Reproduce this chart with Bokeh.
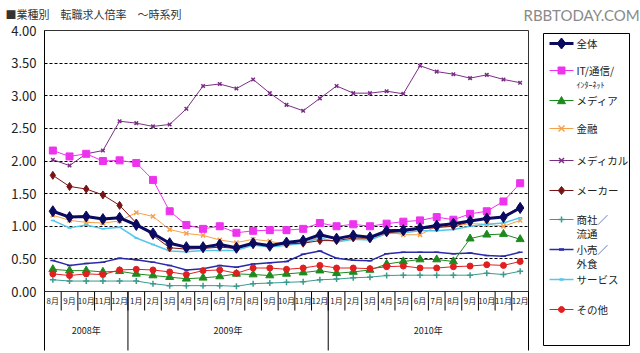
import math
from bokeh.plotting import figure
from bokeh.models import Range1d, FixedTicker, PrintfTickFormatter
from bokeh.core.properties import value
from bokeh.embed import file_html
from bokeh.resources import INLINE

# ---------------- data ----------------
months = ["8月", "9月", "10月", "11月", "12月",
          "1月", "2月", "3月", "4月", "5月", "6月", "7月", "8月", "9月", "10月", "11月", "12月",
          "1月", "2月", "3月", "4月", "5月", "6月", "7月", "8月", "9月", "10月", "11月", "12月"]
years = ["2008年", "2009年", "2010年"]
year_counts = [5, 12, 12]

zentai = [1.23, 1.14, 1.15, 1.11, 1.13, 1.02, 0.89, 0.74, 0.68, 0.68, 0.72, 0.67, 0.74, 0.70, 0.75, 0.78,
          0.87, 0.81, 0.86, 0.83, 0.93, 0.94, 0.97, 1.01, 1.04, 1.08, 1.12, 1.14, 1.28]
it_net = [2.16, 2.07, 2.11, 2.00, 2.01, 1.97, 1.71, 1.23, 1.02, 0.96, 1.00, 0.90, 0.93, 0.94, 0.94, 0.96,
          1.05, 1.00, 1.03, 1.00, 1.04, 1.07, 1.09, 1.14, 1.10, 1.19, 1.23, 1.38, 1.66]
media = [0.34, 0.32, 0.32, 0.30, 0.31, 0.27, 0.245, 0.22, 0.195, 0.21, 0.23, 0.27, 0.26, 0.245, 0.27, 0.29,
         0.32, 0.28, 0.30, 0.33, 0.42, 0.46, 0.49, 0.49, 0.46, 0.81, 0.87, 0.88, 0.80]
kinyu = [1.17, 1.09, 1.06, 1.05, 1.08, 1.21, 1.15, 0.95, 0.89, 0.86, 0.79, 0.75, 0.80, 0.77, 0.72, 0.74,
         0.84, 0.82, 0.83, 0.80, 0.92, 0.87, 0.87, 1.00, 1.00, 1.04, 1.03, 1.00, 1.09]
medical = [2.02, 1.93, 2.11, 2.16, 2.61, 2.58, 2.53, 2.56, 2.80, 3.15, 3.18, 3.11, 3.25, 3.04, 2.86, 2.77,
           2.96, 3.15, 3.04, 3.04, 3.07, 3.03, 3.46, 3.37, 3.33, 3.27, 3.32, 3.25, 3.20]
maker = [1.78, 1.61, 1.57, 1.48, 1.32, 1.05, 0.86, 0.67, 0.65, 0.66, 0.68, 0.66, 0.73, 0.72, 0.73, 0.74,
         0.78, 0.78, 0.82, 0.82, 0.90, 0.92, 0.96, 0.98, 1.00, 1.07, 1.12, 1.15, 1.30]
shosha = [0.18, 0.16, 0.16, 0.16, 0.16, 0.16, 0.12, 0.09, 0.09, 0.09, 0.09, 0.08, 0.12, 0.13, 0.14, 0.15,
          0.18, 0.19, 0.21, 0.22, 0.245, 0.25, 0.25, 0.25, 0.25, 0.25, 0.28, 0.26, 0.31]
kouri = [0.475, 0.40, 0.43, 0.45, 0.51, 0.485, 0.45, 0.40, 0.33, 0.35, 0.40, 0.37, 0.42, 0.44, 0.46, 0.57,
         0.62, 0.51, 0.48, 0.47, 0.58, 0.60, 0.60, 0.60, 0.58, 0.59, 0.55, 0.54, 0.60]
service = [1.09, 0.975, 1.02, 0.96, 0.985, 0.82, 0.72, 0.62, 0.61, 0.63, 0.63, 0.63, 0.71, 0.68, 0.71, 0.74,
           0.82, 0.76, 0.80, 0.79, 0.89, 0.90, 0.93, 0.93, 0.95, 1.00, 1.03, 1.05, 1.13]
sonota = [0.27, 0.245, 0.27, 0.26, 0.33, 0.34, 0.33, 0.30, 0.26, 0.32, 0.33, 0.28, 0.36, 0.36, 0.34, 0.36,
          0.40, 0.36, 0.36, 0.35, 0.38, 0.39, 0.36, 0.36, 0.38, 0.39, 0.41, 0.40, 0.46]

y_ticks = [0.0, 0.5, 1.0, 1.5, 2.0, 2.5, 3.0, 3.5, 4.0]

# (name, values, color, line width, marker, marker size, legend lines)
series = [
    ("メディカル", medical, "#7b2d86", 1, "x", 5, ["メディカル"]),
    ("金融", kinyu, "#f5a04a", 1, "x", 6, ["金融"]),
    ("サービス", service, "#55c6ec", 1.5, "dash", 4, ["サービス"]),
    ("小売／外食", kouri, "#2a2aa8", 1.5, "dash", 5, ["小売／", "外食"]),
    ("商社／流通", shosha, "#3a9a8c", 1, "cross", 6, ["商社／", "流通"]),
    ("メディア", media, "#1e8a1e", 1, "triangle", 8, ["メディア"]),
    ("その他", sonota, "#e02020", 1, "circle", 6, ["その他"]),
    ("IT/通信/インターネット", it_net, "#ee33ee", 1, "square", 7, ["IT/通信/", "ｲﾝﾀｰﾈｯﾄ"]),
    ("メーカー", maker, "#7a1414", 1, "diamond", 8, ["メーカー"]),
    ("全体", zentai, "#0a0a60", 3, "diamond", 11, ["全体"]),
]
legend_order = ["全体", "IT/通信/インターネット", "メディア", "金融", "メディカル", "メーカー",
                "商社／流通", "小売／外食", "サービス", "その他"]

n = len(months)
xc = [i + 0.5 for i in range(n)]

# ---------------- figure ----------------
FRAME_L, FRAME_R, FRAME_T, FRAME_B = 44, 528, 30, 291
p = figure(width=640, height=353, output_backend="svg", toolbar_location=None,
           x_range=Range1d(0, n), y_range=Range1d(0, 4), x_axis_location=None, title=None,
           min_border_left=FRAME_L, min_border_right=640 - FRAME_R,
           min_border_top=FRAME_T, min_border_bottom=353 - FRAME_B)
p.extra_x_ranges = {"px": Range1d(FRAME_L, FRAME_R)}
p.extra_y_ranges = {"px": Range1d(FRAME_B, FRAME_T)}
p.background_fill_color = "white"
p.border_fill_color = "white"
p.outline_line_color = "#333333"
p.xgrid.visible = False

yax = p.yaxis[0]
yax.ticker = FixedTicker(ticks=y_ticks)
yax.formatter = PrintfTickFormatter(format="%.2f")
yax.major_tick_out = 0
yax.major_tick_in = 0
yax.minor_tick_out = 0
yax.minor_tick_in = 0
yax.axis_line_color = "black"
yax.major_label_standoff = 8
yax.major_label_text_font = "Noto Sans CJK JP"
yax.major_label_text_font_size = "13px"
yax.major_label_text_color = "#222222"

p.ygrid.ticker = FixedTicker(ticks=y_ticks[1:-1])
p.ygrid.grid_line_color = "black"
p.ygrid.grid_line_dash = "3 2"
p.ygrid.grid_line_width = 1

# ---------------- series ----------------
for name, vals, col, lw, mk, ms, _ in series:
    p.line(xc, vals, line_color=col, line_width=lw)
    if mk in ("x", "cross", "dash"):
        p.scatter(xc, vals, marker=mk, size=ms, line_color=col, line_width=1.5)
    else:
        p.scatter(xc, vals, marker=mk, size=ms, fill_color=col, line_color=col)

# ---------------- x axis decorations ----------------
bounds = list(range(n + 1))
year_bounds = [0]
for c in year_counts:
    year_bounds.append(year_bounds[-1] + c)
year_centers = [(year_bounds[i] + year_bounds[i + 1]) / 2 for i in range(len(years))]

p.segment(x0=bounds, y0=[FRAME_B] * len(bounds), x1=bounds, y1=[310] * len(bounds),
          y_range_name="px", line_color="black", line_width=1, level="overlay")
p.segment(x0=year_bounds, y0=[FRAME_B] * len(year_bounds), x1=year_bounds, y1=[350] * len(year_bounds),
          y_range_name="px", line_color="black", line_width=1, level="overlay")
p.text(x=xc, y=[300] * n, text=months, y_range_name="px", text_font=value("Noto Sans CJK JP"),
       text_font_size="8px", text_align="center", text_baseline="middle", text_color="#222222",
       level="overlay")
p.text(x=year_centers, y=[330] * len(years), text=years, y_range_name="px",
       text_font=value("Noto Sans CJK JP"), text_font_size="9px", text_align="center",
       text_baseline="middle", text_color="#222222", level="overlay")

# ---------------- title / watermark ----------------
p.text(x=[5], y=[13], text=["■業種別　転職求人倍率　～時系列"], x_range_name="px", y_range_name="px",
       text_font=value("Noto Sans CJK JP"), text_font_size="11px", text_align="left",
       text_baseline="middle", text_color="#333333", level="overlay")
p.text(x=[523], y=[14], text=["RBBTODAY.COM"], x_range_name="px", y_range_name="px",
       text_font=value("Lato"), text_font_size="15px", text_align="left",
       text_baseline="middle", text_color="#8a8a8a", level="overlay")

# ---------------- legend (drawn manually, screen-pixel coordinates) ----------------
LX0, LX1, LY0, LY1 = 543, 629, 33, 345
PX = dict(x_range_name="px", y_range_name="px", level="overlay")
p.quad(left=[LX0], right=[LX1], top=[LY0], bottom=[LY1], fill_color="white",
       line_color="black", line_width=1, **PX)
leg_rows = [43, 70, 100, 128, 160, 190, 219, 249, 279, 309]
sub_gap = 14
by_name = {s[0]: s for s in series}


def legend_marker(cx, cy, mk, ms, col):
    h = ms / 2.0
    if mk == "diamond":
        p.patch([cx, cx + h * 0.8, cx, cx - h * 0.8], [cy - h, cy, cy + h, cy],
                fill_color=col, line_color=col, **PX)
    elif mk == "square":
        p.patch([cx - h, cx + h, cx + h, cx - h], [cy - h, cy - h, cy + h, cy + h],
                fill_color=col, line_color=col, **PX)
    elif mk == "triangle":
        p.patch([cx, cx + h, cx - h], [cy - h, cy + h * 0.8, cy + h * 0.8],
                fill_color=col, line_color=col, **PX)
    elif mk == "circle":
        ang = [2 * math.pi * k / 16 for k in range(16)]
        p.patch([cx + h * math.cos(a) for a in ang], [cy + h * math.sin(a) for a in ang],
                fill_color=col, line_color=col, **PX)
    elif mk == "x":
        p.segment(x0=[cx - h, cx - h], y0=[cy - h, cy + h], x1=[cx + h, cx + h], y1=[cy + h, cy - h],
                  line_color=col, line_width=1.5, **PX)
    elif mk == "cross":
        p.segment(x0=[cx - h, cx], y0=[cy, cy - h], x1=[cx + h, cx], y1=[cy, cy + h],
                  line_color=col, line_width=1.5, **PX)
    elif mk == "dash":
        p.segment(x0=[cx - h], y0=[cy], x1=[cx + h], y1=[cy], line_color=col, line_width=2.5, **PX)


for row_y, nm in zip(leg_rows, legend_order):
    _, _, col, lw, mk, ms, lines = by_name[nm]
    p.line([549, 573], [row_y, row_y], line_color=col, line_width=lw, **PX)
    legend_marker(561, row_y, mk, ms, col)
    for k, t in enumerate(lines):
        small = t.startswith("ｲ")
        p.text(x=[576], y=[row_y + k * sub_gap], text=[t],
               text_font=value("Noto Sans CJK JP"), text_font_size="8px" if small else "10.5px",
               text_align="left", text_baseline="middle", text_color="#222222", **PX)

open("out.html", "w").write(file_html(p, INLINE))
